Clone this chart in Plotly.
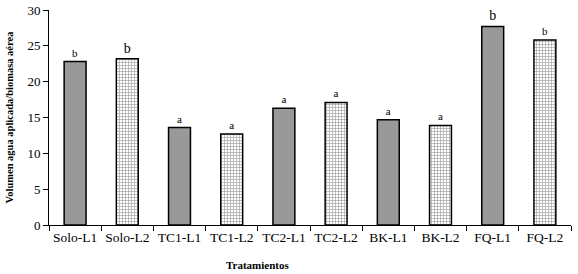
import plotly.graph_objects as go

categories = ["Solo-L1", "Solo-L2", "TC1-L1", "TC1-L2", "TC2-L1", "TC2-L2", "BK-L1", "BK-L2", "FQ-L1", "FQ-L2"]
values = [22.8, 23.2, 13.6, 12.7, 16.3, 17.1, 14.7, 13.9, 27.7, 25.8]
letters = ["b", "b", "a", "a", "a", "a", "a", "a", "b", "b"]
letter_sizes = [11, 14, 11, 11, 11, 11, 11, 11, 14, 11]

shapes = ["" if c.endswith("L1") else "+" for c in categories]

fig = go.Figure()
fig.add_trace(go.Bar(
    x=categories, y=values,
    width=0.42,
    marker=dict(
        color=["#999999" if s == "" else "#ffffff" for s in shapes],
        line=dict(color="black", width=1.5),
        pattern=dict(shape=shapes, fgcolor="#000000", bgcolor="#d0d0d0", size=3, solidity=0.4),
    ),
    text=letters,
    textposition="outside",
    textfont=dict(family="Liberation Serif", size=letter_sizes, color=["#000000"] * len(letters)),
    cliponaxis=False,
))

fig.update_layout(
    width=578, height=274,
    margin=dict(l=49, r=7, t=10, b=49, autoexpand=False),
    paper_bgcolor="white", plot_bgcolor="white",
    showlegend=False,
    font=dict(family="Liberation Serif", color="black"),
    annotations=[dict(
        text="<b>Tratamientos</b>", xref="paper", yref="paper",
        x=0.40, y=0, yshift=-40, xanchor="center", yanchor="middle",
        showarrow=False, font=dict(family="Liberation Serif", size=11, color="black"),
    )],
)
fig.update_xaxes(
    type="category", tickson="boundaries", ticks="outside", ticklen=5, tickcolor="black",
    showline=True, linecolor="black", linewidth=1, automargin=False, tickangle=0,
    tickfont=dict(family="Liberation Serif", size=13.5),
)
fig.update_yaxes(
    range=[0, 30], dtick=5, ticks="outside", ticklen=5, tickcolor="black",
    showline=True, linecolor="black", linewidth=1, showgrid=False, zeroline=False, automargin=False,
    tickfont=dict(family="Liberation Serif", size=13),
    title=dict(text="<b>Volumen agua aplicada/biomasa aérea</b>", font=dict(family="Liberation Serif", size=10.5), standoff=11),
)

fig.write_html("out.html", post_script="document.body.style.margin='0';", config={"displayModeBar": False})
